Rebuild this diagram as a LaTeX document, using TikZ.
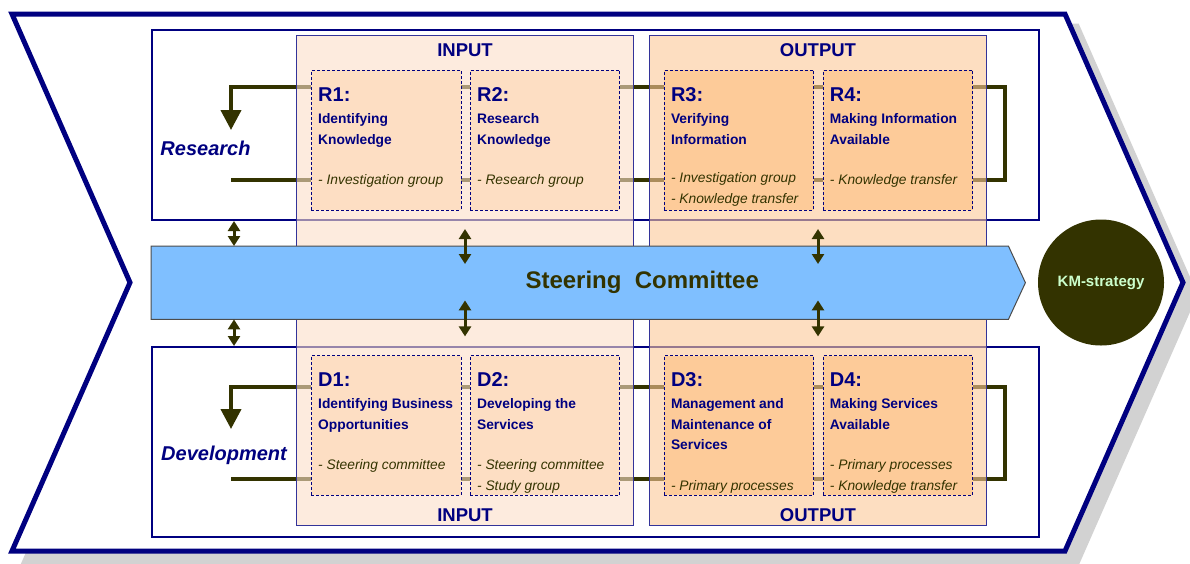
\documentclass[tikz,border=0pt]{standalone}
\usepackage{fontspec}
\setmainfont{Liberation Sans}
\usetikzlibrary{arrows.meta,positioning}

\definecolor{kmnavy}{HTML}{000080}
\definecolor{kmolive}{HTML}{333300}
\definecolor{kmblue}{HTML}{7FBFFF}
\definecolor{kmgreen}{HTML}{CCFFCC}
\definecolor{shadowgray}{HTML}{D2D2D2}
\definecolor{inputfill}{HTML}{FCDFC8}
\definecolor{outputfill}{HTML}{FCC899}
\definecolor{inputbox}{HTML}{FDDEC3}
\definecolor{outputbox}{HTML}{FDCB99}

\tikzset{
  panel/.style={draw=kmnavy, line width=2pt, fill=white, anchor=north west, inner sep=0pt,
    minimum width=887pt, minimum height=190pt},
  phase/.style={draw=kmnavy!80, line width=1pt, fill opacity=0.6, anchor=north west,
    inner sep=0pt, minimum width=337pt, minimum height=490pt},
  stage/.style={draw=kmnavy, line width=0.9pt, dash pattern=on 3pt off 2pt, anchor=north west,
    inner sep=0pt, minimum width=149.5pt, minimum height=139.5pt},
  stageid/.style={anchor=base west, inner sep=0pt, text=kmnavy,
    font=\bfseries\fontsize{20pt}{24pt}\selectfont},
  % multi-line nodes sit on the baseline of their last line
  stagename/.style={anchor=base west, inner sep=0pt, align=left, text=kmnavy,
    font=\bfseries\fontsize{13.8pt}{20.5pt}\selectfont},
  stagewho/.style={anchor=base west, inner sep=0pt, align=left, text=kmolive,
    font=\itshape\fontsize{13.8pt}{20.5pt}\selectfont},
  phaselabel/.style={anchor=base, text=kmnavy, font=\bfseries\fontsize{18.5pt}{22pt}\selectfont},
  rowlabel/.style={anchor=base, text=kmnavy, font=\bfseries\itshape\fontsize{20pt}{24pt}\selectfont},
  feedback/.style={draw=kmolive, line width=4pt, -{Triangle[width=20pt,length=20pt]}},
  dbl/.style={draw=kmolive, line width=3pt,
    {Triangle[width=12pt,length=10pt]}-{Triangle[width=12pt,length=10pt]}},
}

\begin{document}
\begin{tikzpicture}[x=1pt, y=-1pt]
  \useasboundingbox (0,0) rectangle (1190,563);

  % chevron and its shadow
  \filldraw[shadowgray, line width=5pt, shift={(12,12)}] (12,14) -- (1065,14) -- (1183,282.5)
    -- (1065,551) -- (12,551) -- (130,282.5) -- cycle;
  \filldraw[draw=kmnavy, fill=white, line width=5pt] (12,14) -- (1065,14) -- (1183,282.5)
    -- (1065,551) -- (12,551) -- (130,282.5) -- cycle;

  % the two rows
  \node[panel] (research) at (151,29) {};
  \node[panel] (development) at (151,346) {};

  % feedback loops, behind the phases
  \coordinate (rin) at (231,180);
  \coordinate (rturn) at (1005,87);
  \coordinate (rtip) at (231,130);
  \draw[feedback] (rin) -- (rin -| rturn) -- (rturn) -- (rtip |- rturn) -- (rtip);
  \coordinate (din) at (231,479);
  \coordinate (dturn) at (1005,387);
  \coordinate (dtip) at (231,429);
  \draw[feedback] (din) -- (din -| dturn) -- (dturn) -- (dtip |- dturn) -- (dtip);

  % input and output phases
  \node[phase, fill=inputfill] (input) at (296,35) {};
  \node[phase, fill=outputfill, right=15pt of input] (output) {};
  \node[phaselabel] (inputtop) at ([shift={(0,21)}]input.north) {INPUT};
  \node[phaselabel] (inputbottom) at ([shift={(0,-4.5)}]input.south) {INPUT};
  \node[phaselabel] (outputtop) at ([shift={(0,21)}]output.north) {OUTPUT};
  \node[phaselabel] (outputbottom) at ([shift={(0,-4.5)}]output.south) {OUTPUT};

  % research stages
  \node[stage, fill=inputbox] (r1) at (311,70) {};
  \node[stage, fill=inputbox, right=8.5pt of r1] (r2) {};
  \node[stage, fill=outputbox, right=43.5pt of r2] (r3) {};
  \node[stage, fill=outputbox, right=8.5pt of r3] (r4) {};

  \node[stageid] at ([shift={(7,31)}]r1.north west) {R1:};
  \node[stagename] at ([shift={(7,74)}]r1.north west) {Identifying\\Knowledge};
  \node[stagewho] at ([shift={(7,114.5)}]r1.north west) {- Investigation group};

  \node[stageid] at ([shift={(7,31)}]r2.north west) {R2:};
  \node[stagename] at ([shift={(7,74)}]r2.north west) {Research\\Knowledge};
  \node[stagewho] at ([shift={(7,114.5)}]r2.north west) {- Research group};

  \node[stageid] at ([shift={(7,31)}]r3.north west) {R3:};
  \node[stagename] at ([shift={(7,74)}]r3.north west) {Verifying\\Information};
  \node[stagewho] at ([shift={(7,133)}]r3.north west) {- Investigation group\\- Knowledge transfer};

  \node[stageid] at ([shift={(7,31)}]r4.north west) {R4:};
  \node[stagename] at ([shift={(7,74)}]r4.north west) {Making Information\\Available};
  \node[stagewho] at ([shift={(7,114.5)}]r4.north west) {- Knowledge transfer};

  % development stages
  \node[stage, fill=inputbox, below=145pt of r1] (d1) {};
  \node[stage, fill=inputbox, below=145pt of r2] (d2) {};
  \node[stage, fill=outputbox, below=145pt of r3] (d3) {};
  \node[stage, fill=outputbox, below=145pt of r4] (d4) {};

  \node[stageid] at ([shift={(7,31)}]d1.north west) {D1:};
  \node[stagename] at ([shift={(7,74)}]d1.north west) {Identifying Business\\Opportunities};
  \node[stagewho] at ([shift={(7,114.5)}]d1.north west) {- Steering committee};

  \node[stageid] at ([shift={(7,31)}]d2.north west) {D2:};
  \node[stagename] at ([shift={(7,74)}]d2.north west) {Developing the\\Services};
  \node[stagewho] at ([shift={(7,135)}]d2.north west) {- Steering committee\\- Study group};

  \node[stageid] at ([shift={(7,31)}]d3.north west) {D3:};
  \node[stagename] at ([shift={(7,94.5)}]d3.north west) {Management and\\Maintenance of\\Services};
  \node[stagewho] at ([shift={(7,135)}]d3.north west) {- Primary processes};

  \node[stageid] at ([shift={(7,31)}]d4.north west) {D4:};
  \node[stagename] at ([shift={(7,74)}]d4.north west) {Making Services\\Available};
  \node[stagewho] at ([shift={(7,135)}]d4.north west) {- Primary processes\\- Knowledge transfer};

  % steering committee bar
  \node[anchor=north west, minimum width=857pt, minimum height=73pt, inner sep=0pt] (bar) at (151,246) {};
  \filldraw[fill=kmblue, draw=black!70, line width=1pt] (bar.north west) -- (bar.north east)
    -- ([xshift=17pt]bar.east) -- (bar.south east) -- (bar.south west) -- cycle;
  \node[text=kmolive, font=\bfseries\fontsize{24pt}{28pt}\selectfont] (committee)
    at ([xshift=62.5pt]bar.center) {Steering~ Committee};

  % links to the committee
  \draw[dbl] ([xshift=83pt]research.south west) -- ([xshift=83pt]bar.north west);
  \draw[dbl] ([xshift=83pt]bar.south west) -- ([xshift=83pt]development.north west);
  \coordinate (inup) at (bar.north -| input.center);
  \coordinate (indown) at (bar.south -| input.center);
  \coordinate (outup) at (bar.north -| output.center);
  \coordinate (outdown) at (bar.south -| output.center);
  \draw[dbl] ([yshift=17pt]inup) -- ([yshift=-18pt]inup);
  \draw[dbl] ([yshift=19pt]indown) -- ([yshift=-17pt]indown);
  \draw[dbl] ([yshift=17pt]outup) -- ([yshift=-18pt]outup);
  \draw[dbl] ([yshift=19pt]outdown) -- ([yshift=-17pt]outdown);

  % goal
  \node[circle, fill=kmolive, minimum size=126pt, inner sep=0pt, text=kmgreen,
    font=\bfseries\fontsize{15pt}{18pt}\selectfont] (km) at (1101,282.5) {KM-strategy};

  \node[rowlabel] (researchlabel) at (205.5,155) {Research};
  \node[rowlabel] (developmentlabel) at (224,460) {Development};
\end{tikzpicture}
\end{document}
